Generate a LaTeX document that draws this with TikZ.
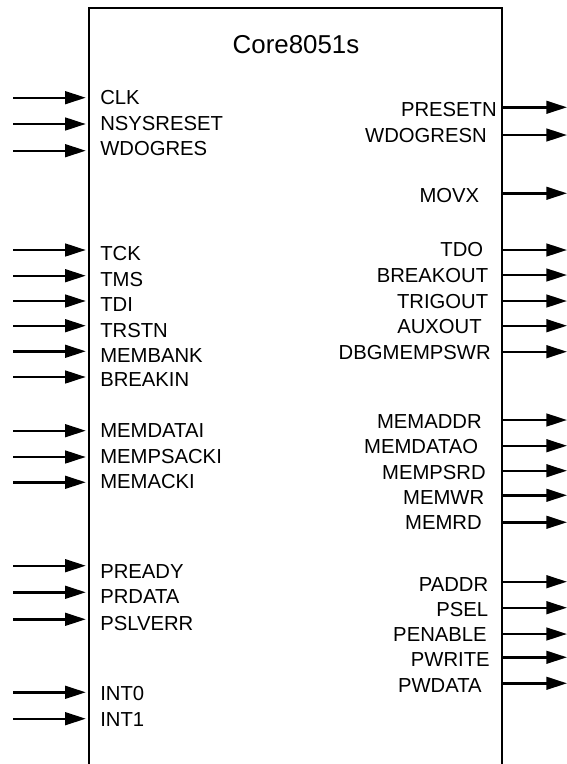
\documentclass[tikz,border=0pt]{standalone}
\usepackage{fontspec}
\setmainfont{Liberation Sans}
\usetikzlibrary{arrows.meta}

\begin{document}
\begin{tikzpicture}[
    x=0.75pt, y=-0.75pt,
    boxline/.style={
        draw=black,
        line width=1.9pt
    },
    sig/.style={
        -{Triangle[length=15.5pt, width=9.5pt]},
        line width=1.8pt,
        draw=black
    },
    pinin/.style={
        anchor=west,
        inner sep=0pt,
        font=\fontsize{15.2}{18}\selectfont
    },
    pinout/.style={
        anchor=east,
        inner sep=0pt,
        font=\fontsize{15.2}{18}\selectfont
    },
    title/.style={
        inner sep=0pt,
        font=\fontsize{19.4}{23}\selectfont
    }
]
\useasboundingbox (0,0) rectangle (567,764);

% ------------------------------------------------
% Core block (open at the bottom)
% ------------------------------------------------
\coordinate (corenw) at (89,8);
\coordinate (corene) at (502,8);
\coordinate (coresw) at (89,764);
\coordinate (corese) at (502,764);
\draw[boxline] (coresw) -- (corenw) -- (corene) -- (corese);

\node[title] (name) at (296,45) {Core8051s};

% ------------------------------------------------
% Inputs
% ------------------------------------------------
\foreach \ya/\yl/\t in {97.7/98/CLK, 124/124/NSYSRESET, 150.7/148.5/WDOGRES,
    250/253.5/TCK, 275.7/279.5/TMS, 301/304.5/TDI, 325.7/331/TRSTN,
    351.3/355.8/MEMBANK, 377/379.2/BREAKIN,
    430.7/431/MEMDATAI, 457/457/MEMPSACKI, 482.3/482/MEMACKI,
    565.7/572/PREADY, 592.3/596.7/PRDATA, 619.3/623.3/PSLVERR,
    692.3/693.8/INT0, 718.7/720/INT1}{
  \coordinate (in-\t) at (13,\ya);
  \draw[sig, shorten >=2.4pt] (in-\t) -- (in-\t -| corenw);
  \node[pinin] (\t) at (100,\yl) {\t};
}

% ------------------------------------------------
% Outputs
% ------------------------------------------------
\foreach \ya/\yl/\xr/\t in {107.3/109.5/497/PRESETN, 135/136/487/WDOGRESN,
    193.3/195.5/479.5/MOVX,
    250/249.5/483.5/TDO, 275/275.3/488.5/BREAKOUT, 301/301.2/488.5/TRIGOUT,
    325.7/326.3/482/AUXOUT, 351.7/353/491/DBGMEMPSWR,
    420/421.3/482/MEMADDR, 445.7/447/478.5/MEMDATAO, 470.7/472.8/486/MEMPSRD,
    495.3/498/484.5/MEMWR, 522.3/523/482/MEMRD,
    581.7/584.5/488.5/PADDR, 607.7/609.5/488.5/PSEL, 634/634.5/487/PENABLE,
    657.3/659.5/490/PWRITE, 683.3/686/482/PWDATA}{
  \coordinate (out-\t) at (567,\ya);
  \draw[sig] (out-\t -| corene) -- (out-\t);
  \node[pinout] (\t) at (\xr,\yl) {\t};
}

\end{tikzpicture}
\end{document}
